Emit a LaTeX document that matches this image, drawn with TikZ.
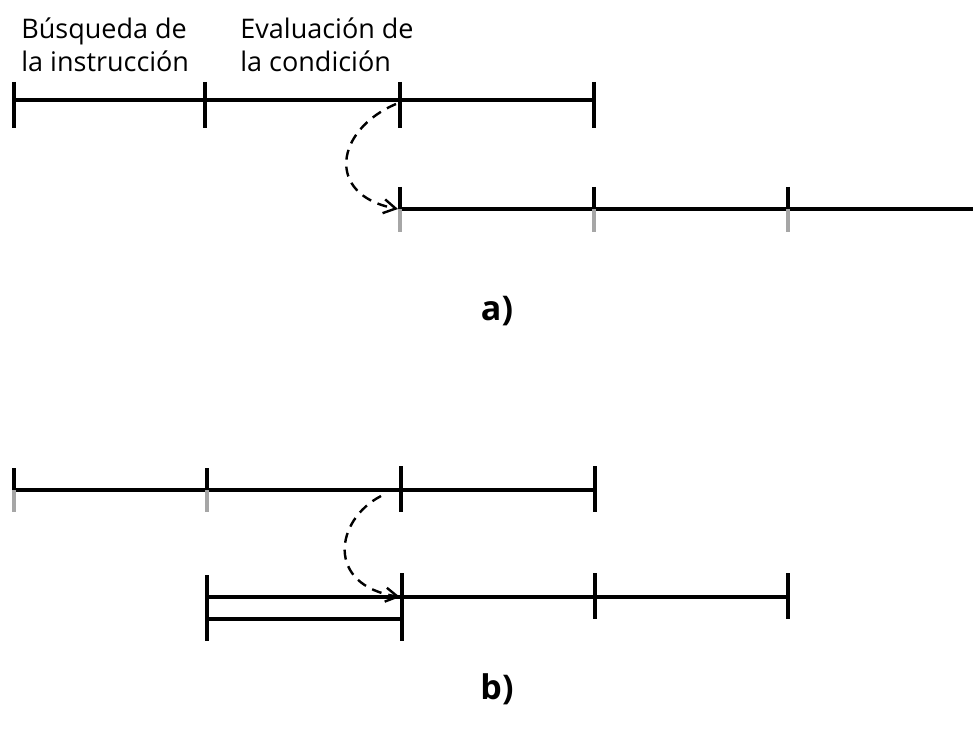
\documentclass[tikz,border=0pt]{standalone}
\usepackage{fontspec}
\setmainfont{Open Sans}
\usetikzlibrary{arrows.meta}

\begin{document}
\begin{tikzpicture}[
    x=0.5pt, y=-0.5pt,
    stage/.style={line width=1.6pt},
    tick/.style={line width=2.2pt},
    faint/.style={line width=2.2pt, gray!70},
    jump/.style={line width=1.2pt, dash pattern=on 5pt off 3.5pt,
                 -{Straight Barb[length=6pt,width=7pt]}},
    label/.style={anchor=north west, inner sep=0pt, align=left,
                  font=\fontsize{13.5}{16.5}\selectfont},
    caption/.style={font=\fontsize{17}{19}\selectfont\bfseries}
]
    \useasboundingbox (0,0) rectangle (973,731);

    % ---- a) ----
    \node[label] (fetch) at (21,17) {Búsqueda de\\la instrucción};
    \node[label] (eval) at (240,17) {Evaluación de\\la condición};

    \coordinate (a0) at (14,100);
    \coordinate (a1) at (205,100);
    \coordinate (a2) at (400,100);
    \coordinate (a3) at (594,100);
    \coordinate (c2) at (400,209);
    \coordinate (c3) at (594,209);
    \coordinate (c4) at (788,209);
    \coordinate (cend) at (973,209);

    \draw[stage] (a0) -- (a3);
    \foreach \p in {a0,a1,a2,a3}
        \draw[tick] ([yshift=9pt]\p) -- ([yshift=-14pt]\p);

    \draw[stage] (c2) -- (cend);
    \foreach \p in {c2,c3,c4} {
        \draw[tick] ([yshift=11pt]\p) -- (\p);
        \draw[faint] (\p) -- ([yshift=-11.5pt]\p);
    }

    \draw[jump] ([xshift=-2pt,yshift=-2pt]a2) .. controls (335,130) and (325,195) .. ([xshift=-1pt]c2);

    \node[caption] (capa) at (497,311) {a)};

    % ---- b) ----
    \coordinate (b0) at (14,490);
    \coordinate (b1) at (207,490);
    \coordinate (b2) at (401,490);
    \coordinate (b3) at (595,490);
    \coordinate (d1) at (207,597);
    \coordinate (d2) at (402,597);
    \coordinate (d3) at (595,597);
    \coordinate (d4) at (788,597);
    \coordinate (e1) at (207,619);
    \coordinate (e2) at (402,619);

    \draw[stage] (b0) -- (b3);
    \foreach \p in {b2,b3}
        \draw[tick] ([yshift=12pt]\p) -- ([yshift=-11pt]\p);
    \foreach \p in {b0,b1} {
        \draw[tick] ([yshift=11pt]\p) -- (\p);
        \draw[faint] (\p) -- ([yshift=-11pt]\p);
    }

    \draw[stage] (d1) -- (d4);
    \draw[stage] (e1) -- (e2);
    \foreach \p in {d3,d4}
        \draw[tick] ([yshift=12pt]\p) -- ([yshift=-11pt]\p);
    \draw[tick] ([yshift=11pt]d1) -- ([yshift=-11pt]e1);
    \draw[tick] ([yshift=12pt]d2) -- ([yshift=-11pt]e2);

    \draw[jump] ([xshift=-10pt,yshift=-3pt]b2) .. controls (335,520) and (325,585) .. ([xshift=-1pt]d2);

    \node[caption] (capb) at (497,689) {b)};
\end{tikzpicture}
\end{document}
